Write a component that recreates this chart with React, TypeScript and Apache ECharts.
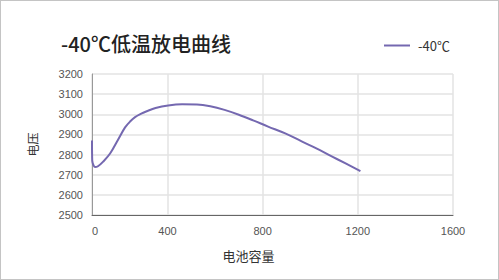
import React, { useEffect, useRef } from "react";
import * as echarts from "echarts";

const titleText = "-40℃低温放电曲线";
const seriesName = "-40℃";
const xAxisName = "电池容量";
const yAxisName = "电压";
const capacity = [83, 84, 90, 96, 108, 130, 159, 193, 222, 243, 264, 290, 313, 350, 403, 462, 524, 580, 640, 700, 760, 823, 895, 960, 1013, 1112, 1211];
const voltage = [2870, 2770, 2745, 2738, 2742, 2765, 2805, 2875, 2935, 2964, 2986, 3003, 3015, 3031, 3044, 3050, 3049, 3040, 3022, 2998, 2970, 2939, 2905, 2868, 2838, 2778, 2718];
const xMin = 83;
const xMax = 1600;
const yMin = 2500;
const yMax = 3200;

export default function App() {
  const ref = useRef<HTMLDivElement>(null);
  useEffect(() => {
    if (!ref.current) return;
    const chart = echarts.init(ref.current, null, { renderer: "svg" });
    const font = "'Liberation Sans', Arial, sans-serif";
    chart.setOption({
      animation: false,
      title: {
        text: titleText,
        left: 56,
        top: 28,
        textStyle: { fontSize: 20, fontWeight: 500, color: "#222", fontFamily: "'Noto Sans CJK SC', sans-serif" },
      },
      legend: {
        data: [seriesName],
        left: 379,
        top: 34,
        icon: "rect",
        itemWidth: 26,
        itemHeight: 2,
        itemGap: 10,
        textStyle: { fontSize: 13, color: "#333", fontFamily: "'Noto Sans CJK SC', sans-serif", padding: [0, 0, 0, 3] },
      },
      grid: { left: 92, right: 46, top: 74, bottom: 65 },
      xAxis: {
        type: "value",
        min: xMin,
        max: xMax,
        minInterval: 400,
        maxInterval: 400,
        splitNumber: 4,
        name: xAxisName,
        nameLocation: "middle",
        nameGap: 34,
        nameTextStyle: { fontSize: 13, color: "#333", padding: [0, 48, 0, 0], fontFamily: "'Noto Sans CJK SC', sans-serif" },
        axisLine: { lineStyle: { color: "#666", width: 1 } },
        axisTick: { show: false },
        axisLabel: {
          showMinLabel: true,
          margin: 10,
          fontSize: 11,
          color: "#555",
          fontFamily: font,
          formatter: (v: number) => (v < 400 ? "{z|0}" : String(v)),
          rich: { z: { padding: [0, 0, 0, 6], fontSize: 11, color: "#555", fontFamily: font } },
        },
        splitLine: { show: true, lineStyle: { color: "#e3e3e3", width: 1.5 } },
      },
      yAxis: {
        type: "value",
        min: yMin,
        max: yMax,
        interval: 100,
        name: yAxisName,
        nameLocation: "middle",
        nameGap: 54,
        nameTextStyle: { fontSize: 12, color: "#333", fontFamily: "'Noto Sans CJK SC', sans-serif" },
        axisLine: { show: true, lineStyle: { color: "#999", width: 1 } },
        axisTick: { show: false },
        axisLabel: { margin: 9, fontSize: 11, color: "#555", fontFamily: font, formatter: (v: number) => String(v) },
        splitLine: { show: true, lineStyle: { color: "#e3e3e3", width: 1.5 } },
      },
      series: [
        {
          name: seriesName,
          type: "line",
          smooth: 0.35,
          symbol: "none",
          data: capacity.map((c, i) => [c, voltage[i]]),
          lineStyle: { color: "#7468b0", width: 2 },
          itemStyle: { color: "#7468b0" },
        },
      ],
    });
    return () => chart.dispose();
  }, []);
  return (
    <div style={{ position: "fixed", left: 0, top: 0, width: 499, height: 280, background: "#fff" }}>
      <div style={{ position: "absolute", left: 0, top: 0, width: 499, height: 280, boxSizing: "border-box", border: "1px solid #c4c4c4" }} />
      <div ref={ref} style={{ position: "absolute", left: 0, top: 0, width: 499, height: 280 }} />
    </div>
  );
}
